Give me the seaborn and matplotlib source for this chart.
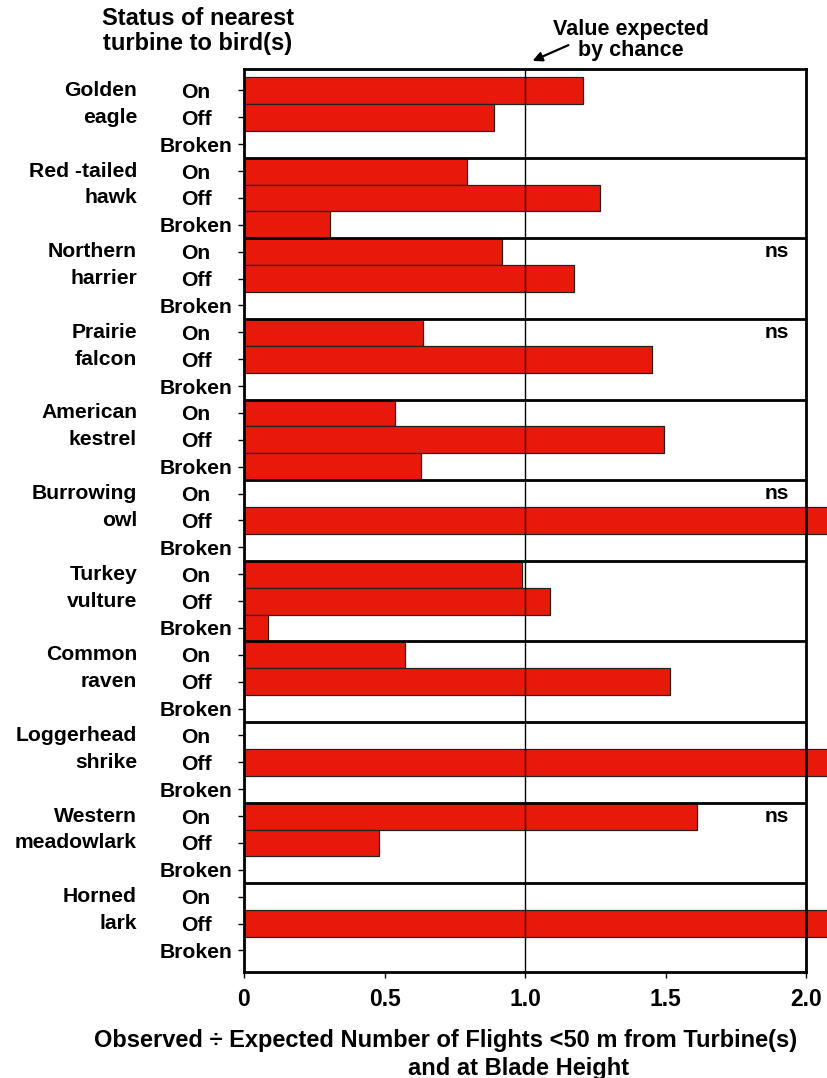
import numpy as np
import pandas as pd
import matplotlib
matplotlib.use('Agg')
import matplotlib.pyplot as plt
import matplotlib.transforms as mtransforms
import seaborn as sns

# data (bars cut at the right edge are > 2.07)
species = [('Golden', 'eagle'), ('Red -tailed', 'hawk'), ('Northern', 'harrier'),
           ('Prairie', 'falcon'), ('American', 'kestrel'), ('Burrowing', 'owl'),
           ('Turkey', 'vulture'), ('Common', 'raven'), ('Loggerhead', 'shrike'),
           ('Western', 'meadowlark'), ('Horned', 'lark')]
statuses = ['On', 'Off', 'Broken']
on_vals = [1.206, 0.794, 0.918, 0.638, 0.538, 0.0, 0.990, 0.574, 0.0, 1.611, 0.0]
off_vals = [0.888, 1.267, 1.172, 1.450, 1.495, 2.3, 1.087, 1.515, 2.3, 0.481, 2.3]
broken_vals = [0.0, 0.305, 0.0, 0.0, 0.628, 0.0, 0.087, 0.0, 0.0, 0.0, 0.0]
ns_groups = [2, 3, 5, 9]  # species with "ns" on the On row

rows = []
for i, sp in enumerate(species):
    for st, vals in zip(statuses, [on_vals, off_vals, broken_vals]):
        rows.append({'row': f'{sp[0]} {sp[1]}|{st}', 'status': st, 'value': vals[i]})
df = pd.DataFrame(rows)

sns.set_style('white')
plt.rcParams['font.family'] = ['Liberation Sans', 'DejaVu Sans']
plt.rcParams['font.weight'] = 'bold'
plt.rcParams['text.color'] = 'black'
plt.rcParams['xtick.color'] = 'black'
plt.rcParams['ytick.color'] = 'black'

W, H = 828, 1078
fig = plt.figure(figsize=(W / 100, H / 100), dpi=100)
x0, x_end, ytop, ybot = 244, 828, 69, 972
ax = fig.add_axes([x0 / W, 1 - ybot / H, (x_end - x0) / W, (ybot - ytop) / H])

sns.barplot(data=df, x='value', y='row', orient='h', order=df['row'].tolist(),
            color='#E8190A', saturation=1, width=1.0, errorbar=None,
            edgecolor='#222222', linewidth=0.9, ax=ax)

px_per_unit = 281.2
ax.set_xlim(0, (x_end - x0) / px_per_unit)
n = len(df)
ax.set_ylim(n - 0.5 + 0.3, -0.8)

# group separators, reference line at 1.0
for g in range(1, len(species)):
    ax.hlines(3 * g - 0.5, 0, 2.0, color='black', lw=2, zorder=4)
ax.axvline(1.0, color='black', lw=1, zorder=5)

for s in ['top', 'bottom', 'left', 'right']:
    ax.spines[s].set_visible(True)
    ax.spines[s].set_color('black')
    ax.spines[s].set_linewidth(2)
ax.spines['top'].set_bounds(0, 2.0)
ax.spines['bottom'].set_bounds(0, 2.0)
ax.spines['right'].set_position(('data', 2.0))
for s in ax.spines.values():
    s.set_zorder(6)

ax.set_xticks([0, 0.5, 1.0, 1.5, 2.0])
ax.set_xticklabels(['0', '0.5', '1.0', '1.5', '2.0'], fontsize=16.5, fontweight='bold')
ax.set_yticks(range(n))
ax.set_yticklabels(df['status'].tolist(), fontsize=15.2, fontweight='bold', ha='center')
ax.tick_params(axis='y', length=4.3, width=1, pad=30.2, left=True, direction='out')
ax.tick_params(axis='x', length=4.3, width=1, pad=7, bottom=True, direction='out')
ax.set_xlabel('')
ax.set_ylabel('')

# species names
trans = mtransforms.blended_transform_factory(fig.transFigure, ax.transData)
for i, (a, b) in enumerate(species):
    ax.text(137 / W, 3 * i, a, transform=trans, ha='right', va='center',
            fontsize=15.2, fontweight='bold')
    ax.text(137 / W, 3 * i + 1, b, transform=trans, ha='right', va='center',
            fontsize=15.2, fontweight='bold')

for g in ns_groups:
    ax.text(1.894, 3 * g, 'ns', ha='center', va='center', fontsize=15.2, fontweight='bold')

fig.text(198 / W, 1 - 31 / H, 'Status of nearest\nturbine to bird(s)', ha='center',
         va='center', fontsize=17, fontweight='bold', linespacing=1.1)
fig.text(631 / W, 1 - 40 / H, 'Value expected\nby chance', ha='center', va='center',
         fontsize=15.5, fontweight='bold', linespacing=1.05)
fig.add_artist(matplotlib.patches.FancyArrowPatch(
    (571 / W, 1 - 44 / H), (530 / W, 1 - 62 / H), transform=fig.transFigure,
    arrowstyle='-|>', mutation_scale=14, lw=1.6, color='black'))

fig.text(446 / W, 1 - 1040 / H, 'Observed \u00f7 Expected Number of Flights <50 m from Turbine(s)',
         ha='center', va='center', fontsize=17, fontweight='bold')
fig.text(519 / W, 1 - 1068 / H, 'and at Blade Height', ha='center', va='center',
         fontsize=17, fontweight='bold')

fig.savefig('out.png', dpi=100)
